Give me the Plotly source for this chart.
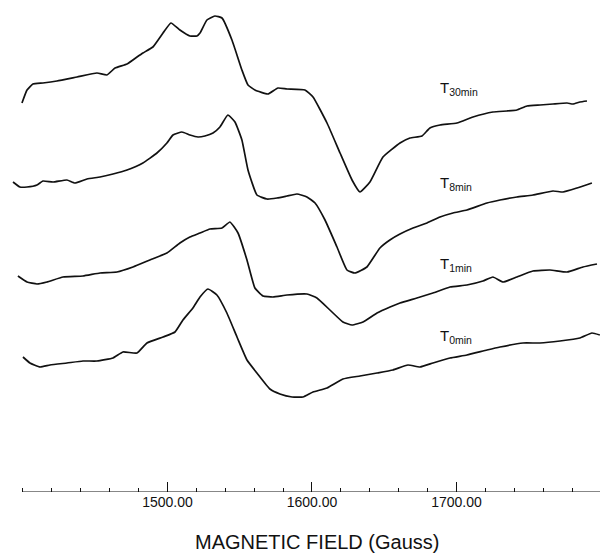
import plotly.graph_objects as go

# Magnetic field (Gauss) and signal (arbitrary units, stacked)
field_t30 = [1399.3, 1402.8, 1406.9, 1413.8, 1423.5, 1437.4, 1451.2, 1458.1, 1463.7, 1472.0,
             1478.9, 1483.0, 1489.9, 1496.9, 1502.4, 1508.6, 1515.5, 1520.4, 1522.5, 1527.3,
             1532.8, 1537.7, 1544.6, 1551.5, 1555.7, 1560.5, 1569.5, 1576.4, 1582.7, 1595.1,
             1600.7, 1610.4, 1619.4, 1627.7, 1633.2, 1640.1, 1649.1, 1660.9, 1667.8, 1676.1,
             1681.6, 1688.6, 1700.3, 1711.4, 1725.2, 1734.9, 1741.8, 1748.8, 1757.8, 1766.8,
             1776.5, 1780.6, 1785.4, 1790.3]
signal_t30 = [389, 402, 408, 409, 411, 415, 419, 417, 424, 428,
              435, 439, 445, 459, 469, 462, 456, 456, 459, 472,
              476, 474, 452, 422, 407, 402, 398, 404, 403, 402,
              395, 369, 339, 312, 300, 310, 335, 349, 354, 356,
              364, 367, 369, 375, 380, 381, 382, 386, 387, 388,
              389, 388, 390, 391]

field_t8 = [1393.1, 1397.9, 1402.8, 1409.7, 1413.8, 1420.8, 1430.4, 1436.0, 1444.3, 1453.3,
            1462.3, 1472.0, 1483.0, 1492.7, 1499.6, 1503.8, 1510.0, 1515.5, 1521.1, 1525.9,
            1531.5, 1536.3, 1541.8, 1546.7, 1551.5, 1555.7, 1561.9, 1568.8, 1575.8, 1582.7,
            1589.6, 1596.5, 1602.1, 1609.0, 1617.3, 1624.2, 1629.7, 1638.0, 1647.0, 1653.9,
            1660.9, 1669.9, 1679.6, 1688.6, 1697.6, 1707.2, 1721.1, 1730.1, 1741.8, 1752.9,
            1766.8, 1773.7, 1783.4, 1793.7]
signal_t8 = [310, 305, 305, 307, 311, 310, 312, 309, 313, 315,
             318, 322, 329, 339, 349, 357, 360, 357, 355, 356,
             359, 365, 377, 370, 352, 322, 297, 293, 294, 296,
             298, 295, 289, 272, 245, 222, 219, 225, 244, 252,
             258, 264, 269, 275, 279, 282, 289, 292, 295, 297,
             301, 300, 304, 309]

field_t1 = [1396.5, 1402.8, 1409.7, 1416.6, 1427.7, 1441.5, 1453.3, 1465.0, 1476.1, 1487.8,
            1499.6, 1508.6, 1515.5, 1522.5, 1529.4, 1537.7, 1543.2, 1548.8, 1555.0, 1560.5,
            1566.1, 1573.0, 1582.7, 1596.5, 1603.4, 1612.4, 1621.4, 1627.7, 1635.3, 1645.0,
            1654.0, 1660.9, 1672.6, 1683.7, 1695.5, 1707.2, 1718.3, 1725.2, 1732.2, 1741.8,
            1752.9, 1764.7, 1776.5, 1787.5, 1797.2]
signal_t1 = [216, 210, 208, 210, 215, 216, 219, 220, 225, 232,
             239, 249, 255, 259, 263, 264, 270, 259, 232, 204,
             196, 195, 197, 198, 194, 182, 170, 167, 170, 179,
             185, 189, 194, 199, 205, 207, 211, 215, 210, 215,
             221, 222, 220, 225, 228]

field_t0 = [1400.0, 1404.8, 1411.8, 1418.7, 1430.4, 1441.5, 1451.2, 1462.3, 1469.2, 1478.9,
            1485.8, 1496.9, 1505.2, 1510.7, 1517.6, 1522.5, 1528.0, 1534.2, 1541.1, 1548.1,
            1555.0, 1561.9, 1570.9, 1577.8, 1586.2, 1593.8, 1600.7, 1610.4, 1621.4, 1633.2,
            1645.0, 1656.0, 1666.4, 1674.7, 1683.7, 1695.5, 1707.2, 1721.1, 1730.1, 1746.0,
            1757.8, 1771.6, 1785.4, 1793.7, 1799.2]
signal_t0 = [135, 129, 125, 127, 129, 131, 131, 134, 140, 139,
             149, 155, 160, 172, 184, 195, 203, 197, 179, 155,
             132, 119, 103, 98, 95, 95, 100, 104, 113, 116,
             119, 122, 127, 125, 129, 134, 137, 142, 145, 149,
             149, 151, 154, 159, 157]

labels = ["T<sub>30min</sub>", "T<sub>8min</sub>", "T<sub>1min</sub>", "T<sub>0min</sub>"]
label_field = [1687.0, 1687.0, 1687.0, 1687.0]
label_signal = [404, 309, 228, 156]

tick_vals = [1500, 1600, 1700]
tick_text = ["1500.00", "1600.00", "1700.00"]
x_title = "MAGNETIC FIELD (Gauss)"

FONT = "Liberation Sans, Arial, sans-serif"
INK = "#111111"

fig = go.Figure()
for fx, sy in [(field_t30, signal_t30), (field_t8, signal_t8),
               (field_t1, signal_t1), (field_t0, signal_t0)]:
    fig.add_trace(go.Scatter(x=fx, y=sy, mode="lines",
                             line=dict(color=INK, width=1.7, shape="spline", smoothing=0.4),
                             showlegend=False, hoverinfo="skip"))

for txt, lx, ly in zip(labels, label_field, label_signal):
    fig.add_annotation(x=lx, y=ly, xref="x", yref="y", text=txt, showarrow=False,
                       xanchor="left", yanchor="middle",
                       font=dict(family=FONT, size=15, color=INK))

fig.add_annotation(x=0.528, y=-0.128, xref="paper", yref="paper", text=x_title,
                   showarrow=False, xanchor="center", yanchor="bottom",
                   font=dict(family=FONT, size=20, color=INK))

# axis baseline starting at 1400 G
fig.add_shape(type="line", xref="x", yref="y", x0=1400, x1=1800, y0=0, y1=0,
              line=dict(color=INK, width=1.2))

fig.update_layout(
    width=600, height=556,
    margin=dict(l=0, r=0, t=0, b=64),
    paper_bgcolor="white", plot_bgcolor="white",
    xaxis=dict(range=[1384.1, 1799.3], showgrid=False, zeroline=False, showline=False,
               tickmode="array", tickvals=tick_vals, ticktext=tick_text,
               ticks="inside", ticklen=10, tickwidth=1.2, tickcolor=INK,
               tickfont=dict(family=FONT, size=14, color=INK),
               minor=dict(tick0=1400, dtick=20, ticks="inside", ticklen=4,
                          tickwidth=1, tickcolor=INK, showgrid=False)),
    yaxis=dict(range=[0, 492], visible=False, showgrid=False, zeroline=False),
)

fig.write_html("out.html")
